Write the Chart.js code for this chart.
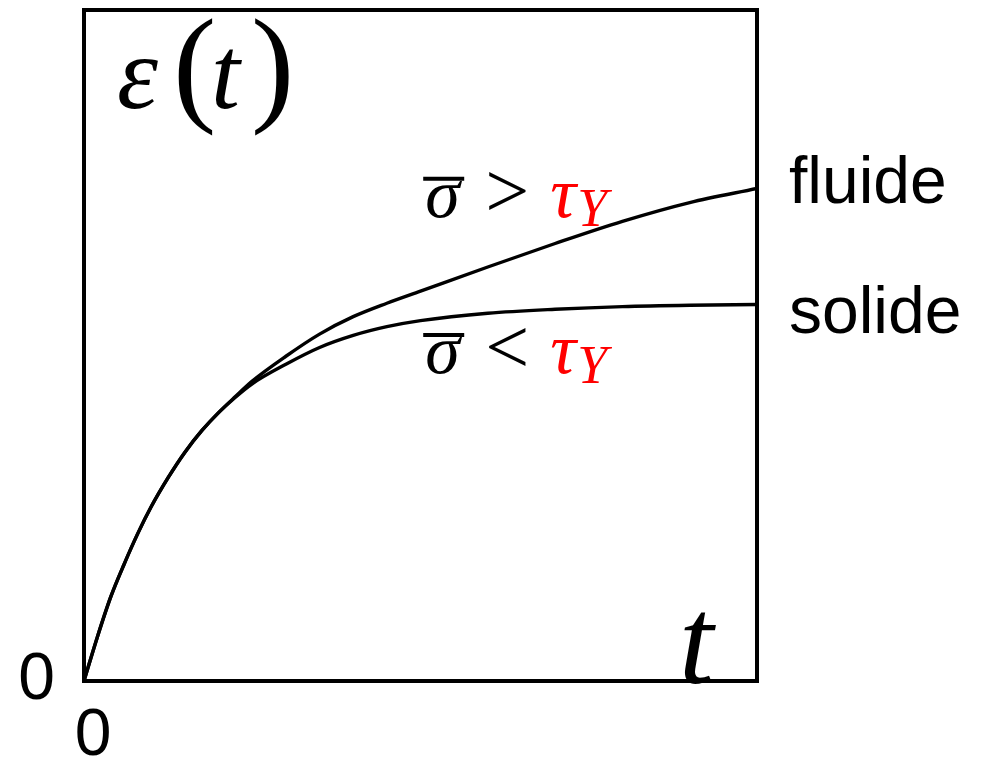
<!DOCTYPE html>
<html>
<head>
<meta charset="utf-8">
<script src="https://cdn.jsdelivr.net/npm/chart.js@4/dist/chart.umd.min.js"></script>
<style>
  html, body { margin: 0; padding: 0; background: #fff; }
  #wrap { width: 984px; height: 764px; }
</style>
</head>
<body>
<div id="wrap"><canvas id="c" width="984" height="764"></canvas></div>
<script>
// Creep response ε(t) under constant stress: above / below the yield stress
const timeGrid     = [0, 0.2, 0.4, 0.6, 0.8, 1.0, 1.25, 1.5, 1.75, 2.0, 2.25, 2.5, 3, 3.5, 4, 4.5, 5, 6, 7, 8, 9, 10];
const strainFluide = [0, 0.66, 1.26, 1.75, 2.20, 2.60, 3.03, 3.41, 3.73, 4.00, 4.24, 4.47, 4.84, 5.17, 5.43, 5.63, 5.81, 6.17, 6.52, 6.85, 7.13, 7.34];
const strainSolide = [0, 0.66, 1.26, 1.75, 2.20, 2.60, 3.03, 3.41, 3.73, 4.00, 4.23, 4.43, 4.72, 4.97, 5.15, 5.28, 5.37, 5.48, 5.54, 5.58, 5.60, 5.61];
const seriesNames  = ['fluide', 'solide'];
const xTicks = [0];
const yTicks = [0];

const SANS = '"Liberation Sans", Arial, Helvetica, sans-serif';
const SERIF = '"Liberation Serif", "Times New Roman", serif';
const RED = '#ff0000';

const toPoints = (ys) => timeGrid.map((t, i) => ({ x: t, y: ys[i] }));

// Text pieces of the math labels, placed relative to an anchor in data space
const mathLabels = [
  { t: 0.49, e: 8.54, pieces: [
    { text: 'ε', font: 'italic 104px ' + SERIF, dx: 0, dy: 0 },
    { text: '(', font: '130px ' + SERIF, dx: 56, dy: 0 },
    { text: 't', font: 'italic 104px ' + SERIF, dx: 94, dy: 0 },
    { text: ')', font: '130px ' + SERIF, dx: 134, dy: 0 }
  ]},
  { t: 8.87, e: 0, pieces: [
    { text: 't', font: 'italic 124px ' + SERIF, dx: -2, dy: 2 }
  ]},
  { t: 5.07, e: 6.92, bar: true, pieces: [
    { text: 'σ', font: 'italic 70px ' + SERIF, dx: 0, dy: 0 },
    { text: '>', font: '78px ' + SERIF, dx: 60, dy: 0 },
    { text: 'τ', font: 'italic 72px ' + SERIF, dx: 125, dy: 0, color: RED },
    { text: 'Y', font: 'italic 54px ' + SERIF, dx: 152, dy: 9, color: RED }
  ]},
  { t: 5.07, e: 4.59, bar: true, pieces: [
    { text: 'σ', font: 'italic 70px ' + SERIF, dx: 0, dy: 0 },
    { text: '<', font: '78px ' + SERIF, dx: 60, dy: 0 },
    { text: 'τ', font: 'italic 72px ' + SERIF, dx: 125, dy: 0, color: RED },
    { text: 'Y', font: 'italic 54px ' + SERIF, dx: 152, dy: 10, color: RED }
  ]}
];

// Offsets of the series names from each curve's last point
const endLabelOffset = [ { dx: 32, dy: 15 }, { dx: 32, dy: 28 } ];

const framePlugin = {
  id: 'frameAndLabels',
  afterDraw(chart) {
    const { ctx, chartArea: a, scales: { x, y } } = chart;
    ctx.save();
    // plot frame
    ctx.strokeStyle = '#000';
    ctx.lineWidth = 4;
    ctx.strokeRect(a.left, a.top, a.right - a.left, a.bottom - a.top);

    ctx.textBaseline = 'alphabetic';
    ctx.textAlign = 'left';
    // math annotations
    mathLabels.forEach(lbl => {
      const px = x.getPixelForValue(lbl.t);
      const py = y.getPixelForValue(lbl.e);
      lbl.pieces.forEach(p => {
        ctx.font = p.font;
        ctx.fillStyle = p.color || '#000';
        ctx.fillText(p.text, px + p.dx, py + p.dy);
      });
      if (lbl.bar) {
        ctx.strokeStyle = '#000';
        ctx.lineWidth = 4;
        ctx.beginPath();
        ctx.moveTo(px - 2, py - 38);
        ctx.lineTo(px + 39, py - 38);
        ctx.stroke();
      }
    });

    // series names at the end of each curve
    ctx.font = '66px ' + SANS;
    ctx.fillStyle = '#000';
    chart.data.datasets.forEach((ds, i) => {
      const last = ds.data[ds.data.length - 1];
      const px = x.getPixelForValue(last.x);
      const py = y.getPixelForValue(last.y);
      ctx.fillText(ds.label, px + endLabelOffset[i].dx, py + endLabelOffset[i].dy);
    });
    ctx.restore();
  }
};

new Chart(document.getElementById('c'), {
  type: 'scatter',
  data: {
    datasets: [
      { label: seriesNames[0], data: toPoints(strainFluide) },
      { label: seriesNames[1], data: toPoints(strainSolide) }
    ].map(d => Object.assign(d, {
      showLine: true,
      borderColor: '#000',
      borderWidth: 3.4,
      pointRadius: 0,
      fill: false,
      cubicInterpolationMode: 'monotone'
    }))
  },
  options: {
    responsive: false,
    animation: false,
    layout: { padding: { top: 10, right: 227, left: 0, bottom: 0 } },
    plugins: { legend: { display: false }, tooltip: { enabled: false } },
    scales: {
      x: {
        type: 'linear', min: 0, max: 10, position: 'bottom',
        grid: { display: false, drawTicks: false },
        border: { display: false },
        afterBuildTicks: s => { s.ticks = xTicks.map(v => ({ value: v })); },
        afterFit: s => { s.height = 83; s.paddingLeft = 0; s.paddingRight = 0; },
        ticks: { color: '#000', font: { family: SANS, size: 66 }, padding: 16, labelOffset: 9, maxRotation: 0, autoSkip: false }
      },
      y: {
        type: 'linear', min: 0, max: 10, position: 'left',
        grid: { display: false, drawTicks: false },
        border: { display: false },
        afterBuildTicks: s => { s.ticks = yTicks.map(v => ({ value: v })); },
        afterFit: s => { s.width = 84; s.paddingTop = 0; s.paddingBottom = 0; },
        ticks: { color: '#000', font: { family: SANS, size: 66 }, padding: 29, autoSkip: false }
      }
    }
  },
  plugins: [framePlugin]
});
</script>
</body>
</html>
